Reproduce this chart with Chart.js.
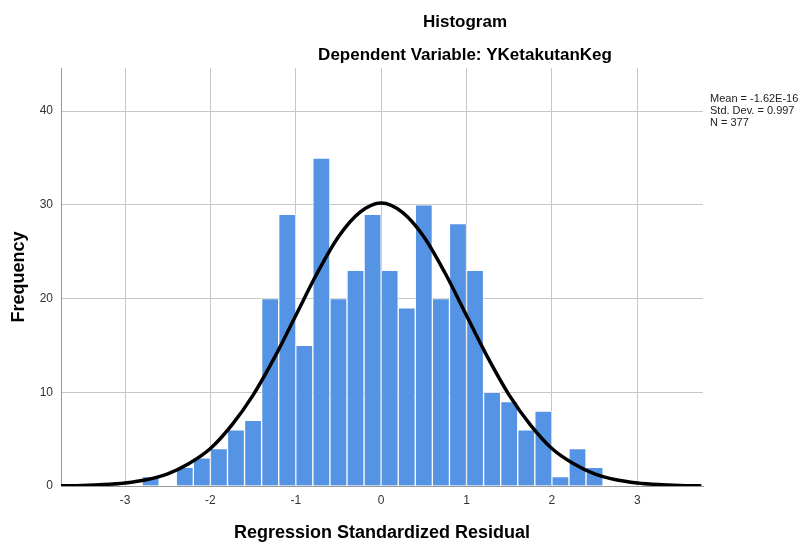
<!DOCTYPE html>
<html>
<head>
<meta charset="utf-8">
<script src="https://cdn.jsdelivr.net/npm/chart.js@4.4.1/dist/chart.umd.min.js"></script>
<style>
  html, body { margin: 0; padding: 0; background: #ffffff; }
  #wrap { width: 808px; height: 542px; position: relative; }
</style>
</head>
<body>
<div id="wrap"><canvas id="c" width="808" height="542"></canvas></div>
<script>
// ---- Data ----
const binCenters = [-2.7, -2.5, -2.3, -2.1, -1.9, -1.7, -1.5, -1.3, -1.1, -0.9, -0.7, -0.5, -0.3, -0.1,
                    0.1, 0.3, 0.5, 0.7, 0.9, 1.1, 1.3, 1.5, 1.7, 1.9, 2.1, 2.3, 2.5];
const frequencies = [1, 0, 2, 3, 4, 6, 7, 20, 29, 15, 35, 20, 23, 29,
                     23, 19, 30, 20, 28, 23, 10, 9, 6, 8, 1, 4, 2];
const curveX = [-3.75, -3.5, -3.25, -3.0, -2.75, -2.5, -2.25, -2.0, -1.75, -1.5, -1.25, -1.0, -0.75, -0.5, -0.25, 0,
                0.25, 0.5, 0.75, 1.0, 1.25, 1.5, 1.75, 2.0, 2.25, 2.5, 2.75, 3.0, 3.25, 3.5, 3.75];
const curveY = [0.02, 0.06, 0.15, 0.33, 0.67, 1.3, 2.4, 4.0, 6.5, 9.7, 13.7, 18.2, 22.7, 26.6, 29.2, 30.2,
                29.2, 26.6, 22.7, 18.2, 13.7, 9.7, 6.5, 4.0, 2.4, 1.3, 0.67, 0.33, 0.15, 0.06, 0.02];
const xTicks = [-3, -2, -1, 0, 1, 2, 3];
const yTicks = [0, 10, 20, 30, 40];
const titleLines = ["Histogram", "Dependent Variable: YKetakutanKeg"];
const xTitle = "Regression Standardized Residual";
const yTitle = "Frequency";
const statsLines = ["Mean = -1.62E-16", "Std. Dev. = 0.997", "N = 377"];

const FONT = "'Liberation Sans', Arial, sans-serif";

const textPlugin = {
  id: 'texts',
  afterDraw(chart) {
    const ctx = chart.ctx;
    const a = chart.chartArea;
    ctx.save();
    ctx.fillStyle = '#000';
    ctx.textAlign = 'center';
    ctx.textBaseline = 'alphabetic';
    ctx.font = 'bold 17px ' + FONT;
    ctx.fillText(titleLines[0], 465, 27);
    ctx.fillText(titleLines[1], 465, 60);
    ctx.font = 'bold 18px ' + FONT;
    ctx.fillText(xTitle, (a.left + a.right) / 2, 538);
    ctx.save();
    ctx.translate(24, (a.top + a.bottom) / 2);
    ctx.rotate(-Math.PI / 2);
    ctx.fillText(yTitle, 0, 0);
    ctx.restore();
    ctx.textAlign = 'left';
    ctx.font = '11px ' + FONT;
    ctx.fillStyle = '#222';
    statsLines.forEach((s, i) => ctx.fillText(s, 710, 102 + i * 12));
    ctx.restore();
  }
};

new Chart(document.getElementById('c'), {
  data: {
    datasets: [
      {
        type: 'line',
        data: curveX.map((x, i) => ({ x: x, y: curveY[i] })),
        borderColor: '#000',
        borderWidth: 3.5,
        pointRadius: 0,
        cubicInterpolationMode: 'monotone',
        fill: false,
        order: 0
      },
      {
        type: 'bar',
        data: binCenters.map((x, i) => ({ x: x, y: frequencies[i] })),
        backgroundColor: '#5593e4',
        borderColor: 'rgba(255,255,255,0.6)',
        borderWidth: 1,
        barPercentage: 1,
        categoryPercentage: 1,
        grouped: false,
        order: 1
      }
    ]
  },
  options: {
    responsive: false,
    animation: false,
    events: [],
    layout: { padding: { top: 68, right: 105, left: 0, bottom: 0 } },
    plugins: { legend: { display: false }, tooltip: { enabled: false } },
    scales: {
      x: {
        type: 'linear',
        offset: false,
        min: -3.75,
        max: 3.77,
        afterBuildTicks: (s) => { s.ticks = xTicks.map(v => ({ value: v })); },
        afterFit: (s) => { s.height = 56; },
        grid: { color: '#c6c6c6', lineWidth: 1, drawTicks: false, offset: false },
        border: { display: true, color: '#999999', width: 1 },
        ticks: { color: '#333', font: { family: FONT, size: 12 }, padding: 7, maxRotation: 0 }
      },
      y: {
        type: 'linear',
        min: 0,
        max: 44.6,
        afterBuildTicks: (s) => { s.ticks = yTicks.map(v => ({ value: v })); },
        afterFit: (s) => { s.width = 61; },
        grid: { color: '#c6c6c6', lineWidth: 1, drawTicks: false },
        border: { display: true, color: '#999999', width: 1 },
        ticks: { color: '#333', font: { family: FONT, size: 12 }, padding: 8 }
      }
    }
  },
  plugins: [textPlugin]
});
</script>
</body>
</html>
